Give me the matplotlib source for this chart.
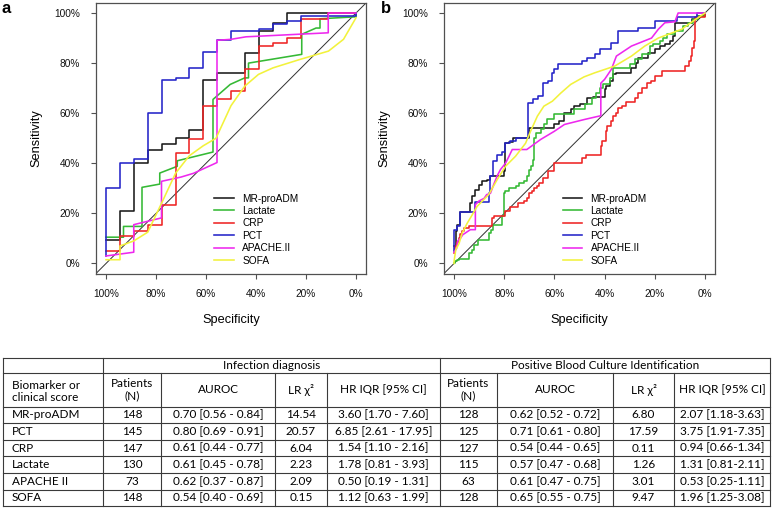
import matplotlib
matplotlib.use("Agg")
import matplotlib.pyplot as plt

plt.rcParams['font.family'] = ['Liberation Sans', 'DejaVu Sans']

# ---------------- ROC curves (specificity, sensitivity) ----------------
names = ['MR-proADM', 'Lactate', 'CRP', 'PCT', 'APACHE.II', 'SOFA']
colors = ['#1a1a1a', '#35b935', '#ee2424', '#2424c8', '#ee28ee', '#f2f23c']
tick_vals = [0.0, 0.2, 0.4, 0.6, 0.8, 1.0]
tick_labels = ['0%', '20%', '40%', '60%', '80%', '100%']

# panel a - infection diagnosis
a_mrproadm_spec = [1.0, 0.944, 0.889, 0.833, 0.778, 0.722, 0.667, 0.611, 0.556, 0.444, 0.389, 0.333, 0.278, 0.0]
a_mrproadm_sens = [0.092, 0.208, 0.40, 0.455, 0.477, 0.50, 0.532, 0.732, 0.761, 0.839, 0.93, 0.96, 1.0, 1.0]

a_lactate_spec = [1.0, 0.93, 0.93, 0.856, 0.856, 0.785, 0.785, 0.715, 0.715, 0.572, 0.572, 0.503, 0.445,
                  0.43, 0.43, 0.217, 0.217, 0.16, 0.144, 0.144, 0.0, 0.0]
a_lactate_sens = [0.105, 0.105, 0.148, 0.148, 0.304, 0.317, 0.361, 0.388, 0.41, 0.445, 0.655, 0.715, 0.741,
                  0.741, 0.80, 0.835, 0.915, 0.94, 0.94, 0.977, 0.985, 1.0]

a_crp_spec = [1.0, 0.944, 0.889, 0.833, 0.778, 0.722, 0.667, 0.611, 0.556, 0.5, 0.444, 0.389, 0.333, 0.278,
              0.222, 0.111, 0.0]
a_crp_sens = [0.048, 0.108, 0.131, 0.152, 0.232, 0.441, 0.497, 0.628, 0.655, 0.688, 0.775, 0.868, 0.879, 0.901,
              0.977, 1.0, 1.0]

a_pct_spec = [1.0, 1.0, 0.944, 0.889, 0.833, 0.778, 0.722, 0.667, 0.611, 0.556, 0.5, 0.389, 0.333, 0.278,
              0.222, 0.0]
a_pct_sens = [0.03, 0.30, 0.40, 0.417, 0.60, 0.733, 0.74, 0.78, 0.845, 0.892, 0.928, 0.938, 0.957, 0.967,
              0.99, 1.0]

a_apache_spec = [1.0, 0.889, 0.889, 0.778, 0.778, 0.70, 0.65, 0.556, 0.556, 0.5, 0.44, 0.111, 0.111, 0.0]
a_apache_sens = [0.03, 0.045, 0.155, 0.182, 0.328, 0.345, 0.36, 0.403, 0.891, 0.895, 0.905, 0.921, 1.0, 1.0]

a_sofa_spec = [1.0, 0.944, 0.944, 0.889, 0.833, 0.778, 0.722, 0.667, 0.611, 0.56, 0.5, 0.445, 0.39, 0.332,
               0.223, 0.11, 0.05, 0.0]
a_sofa_sens = [0.015, 0.015, 0.07, 0.09, 0.125, 0.24, 0.36, 0.43, 0.47, 0.50, 0.63, 0.708, 0.755, 0.781,
               0.815, 0.848, 0.895, 0.981]

# panel b - positive blood culture
b_mrproadm_spec = [1.0, 0.993, 0.988, 0.975, 0.935, 0.928, 0.915, 0.901, 0.888, 0.868, 0.855, 0.80, 0.795,
                   0.78, 0.765, 0.70, 0.60, 0.58, 0.56, 0.535, 0.52, 0.50, 0.47, 0.445, 0.40, 0.393, 0.38,
                   0.366, 0.355, 0.293, 0.273, 0.266, 0.226, 0.20, 0.18, 0.16, 0.14, 0.126, 0.12, 0.053,
                   0.03, 0.0]
b_mrproadm_sens = [0.07, 0.13, 0.155, 0.205, 0.241, 0.268, 0.295, 0.315, 0.328, 0.335, 0.35, 0.37, 0.48,
                   0.485, 0.50, 0.54, 0.555, 0.57, 0.60, 0.615, 0.63, 0.635, 0.66, 0.665, 0.695, 0.708,
                   0.728, 0.755, 0.76, 0.78, 0.80, 0.82, 0.84, 0.855, 0.868, 0.875, 0.888, 0.908, 0.96,
                   0.975, 0.988, 1.0]

b_lactate_spec = [1.0, 0.995, 0.99, 0.98, 0.94, 0.93, 0.92, 0.905, 0.86, 0.853, 0.845, 0.81, 0.80, 0.795,
                  0.78, 0.755, 0.74, 0.72, 0.71, 0.70, 0.692, 0.685, 0.682, 0.675, 0.655, 0.64, 0.628, 0.60,
                  0.52, 0.48, 0.45, 0.433, 0.42, 0.406, 0.38, 0.366, 0.30, 0.28, 0.25, 0.22, 0.206, 0.18,
                  0.166, 0.153, 0.12, 0.087, 0.066, 0.047, 0.027, 0.0]
b_lactate_sens = [0.0, 0.008, 0.013, 0.017, 0.04, 0.055, 0.075, 0.095, 0.12, 0.135, 0.155, 0.188, 0.28, 0.29,
                  0.30, 0.31, 0.32, 0.33, 0.348, 0.375, 0.39, 0.415, 0.50, 0.52, 0.535, 0.555, 0.575, 0.595,
                  0.615, 0.635, 0.66, 0.68, 0.70, 0.715, 0.74, 0.78, 0.795, 0.815, 0.835, 0.868, 0.875,
                  0.888, 0.90, 0.915, 0.928, 0.948, 0.961, 0.975, 0.988, 1.0]

b_crp_spec = [1.0, 0.995, 0.988, 0.98, 0.975, 0.968, 0.96, 0.94, 0.848, 0.84, 0.795, 0.775, 0.745, 0.72,
              0.71, 0.70, 0.69, 0.68, 0.67, 0.66, 0.645, 0.625, 0.60, 0.49, 0.475, 0.415, 0.41, 0.395, 0.39,
              0.375, 0.365, 0.355, 0.345, 0.33, 0.315, 0.28, 0.265, 0.25, 0.23, 0.215, 0.20, 0.17, 0.08,
              0.065, 0.055, 0.05, 0.045, 0.04, 0.0]
b_crp_sens = [0.04, 0.068, 0.084, 0.10, 0.117, 0.128, 0.14, 0.15, 0.18, 0.19, 0.21, 0.225, 0.24, 0.25,
              0.26, 0.28, 0.29, 0.30, 0.31, 0.32, 0.34, 0.37, 0.40, 0.42, 0.435, 0.47, 0.49, 0.53, 0.55,
              0.57, 0.59, 0.60, 0.62, 0.63, 0.645, 0.66, 0.68, 0.70, 0.72, 0.73, 0.75, 0.77, 0.79,
              0.81, 0.83, 0.86, 0.89, 0.985, 1.0]

b_pct_spec = [1.0, 1.0, 0.988, 0.975, 0.915, 0.862, 0.855, 0.845, 0.83, 0.81, 0.795, 0.775, 0.755, 0.705,
              0.705, 0.685, 0.665, 0.645, 0.625, 0.61, 0.60, 0.585, 0.49, 0.47, 0.44, 0.42, 0.373, 0.346,
              0.266, 0.20, 0.113, 0.033, 0.0]
b_pct_sens = [0.05, 0.133, 0.151, 0.205, 0.245, 0.281, 0.35, 0.41, 0.433, 0.447, 0.48, 0.49, 0.50, 0.57,
              0.64, 0.655, 0.67, 0.72, 0.73, 0.76, 0.775, 0.795, 0.808, 0.82, 0.835, 0.855, 0.88, 0.928,
              0.941, 0.968, 0.985, 1.0, 1.0]

b_apache_spec = [1.0, 0.99, 0.985, 0.975, 0.965, 0.95, 0.935, 0.915, 0.915, 0.90, 0.88, 0.87, 0.855, 0.84,
                 0.828, 0.815, 0.795, 0.78, 0.768, 0.71, 0.655, 0.60, 0.56, 0.48, 0.415, 0.415, 0.40,
                 0.373, 0.353, 0.293, 0.213, 0.186, 0.16, 0.12, 0.107, 0.0]
b_apache_sens = [0.045, 0.06, 0.09, 0.10, 0.115, 0.125, 0.135, 0.135, 0.235, 0.25, 0.26, 0.275, 0.28, 0.32,
                 0.35, 0.375, 0.40, 0.43, 0.455, 0.455, 0.495, 0.528, 0.555, 0.575, 0.59, 0.72, 0.735,
                 0.775, 0.828, 0.868, 0.90, 0.935, 0.961, 0.965, 1.0, 1.0]

b_sofa_spec = [1.0, 1.0, 0.993, 0.98, 0.968, 0.948, 0.93, 0.908, 0.862, 0.828, 0.795, 0.755, 0.715, 0.695,
               0.668, 0.642, 0.608, 0.575, 0.535, 0.482, 0.44, 0.36, 0.293, 0.24, 0.186, 0.133, 0.093,
               0.047, 0.0]
b_sofa_sens = [0.0, 0.008, 0.055, 0.08, 0.12, 0.16, 0.19, 0.228, 0.275, 0.335, 0.388, 0.428, 0.48, 0.528,
               0.588, 0.628, 0.648, 0.68, 0.715, 0.745, 0.761, 0.788, 0.828, 0.868, 0.90, 0.92, 0.935,
               0.968, 1.0]

# (spec, sens, drawn as steps?)
panel_a = [(a_mrproadm_spec, a_mrproadm_sens, True), (a_lactate_spec, a_lactate_sens, False),
           (a_crp_spec, a_crp_sens, True), (a_pct_spec, a_pct_sens, True),
           (a_apache_spec, a_apache_sens, False), (a_sofa_spec, a_sofa_sens, False)]
panel_b = [(b_mrproadm_spec, b_mrproadm_sens, True), (b_lactate_spec, b_lactate_sens, True),
           (b_crp_spec, b_crp_sens, True), (b_pct_spec, b_pct_sens, True),
           (b_apache_spec, b_apache_sens, False), (b_sofa_spec, b_sofa_sens, False)]

# ---------------- table ----------------
markers = ['MR-proADM', 'PCT', 'CRP', 'Lactate', 'APACHE II', 'SOFA']
inf_n = ['148', '145', '147', '130', '73', '148']
inf_auroc = ['0.70 [0.56 - 0.84]', '0.80 [0.69 - 0.91]', '0.61 [0.44 - 0.77]',
             '0.61 [0.45 - 0.78]', '0.62 [0.37 - 0.87]', '0.54 [0.40 - 0.69]']
inf_lr = ['14.54', '20.57', '6.04', '2.23', '2.09', '0.15']
inf_hr = ['3.60 [1.70 - 7.60]', '6.85 [2.61 - 17.95]', '1.54 [1.10 - 2.16]',
          '1.78 [0.81 - 3.93]', '0.50 [0.19 - 1.31]', '1.12 [0.63 - 1.99]']
bc_n = ['128', '125', '127', '115', '63', '128']
bc_auroc = ['0.62 [0.52 - 0.72]', '0.71 [0.61 - 0.80]', '0.54 [0.44 - 0.65]',
            '0.57 [0.47 - 0.68]', '0.61 [0.47 - 0.75]', '0.65 [0.55 - 0.75]']
bc_lr = ['6.80', '17.59', '0.11', '1.26', '3.01', '9.47']
bc_hr = ['2.07 [1.18-3.63]', '3.75 [1.91-7.35]', '0.94 [0.66-1.34]',
         '1.31 [0.81-2.11]', '0.53 [0.25-1.11]', '1.96 [1.25-3.08]']
col_headers = ['Patients\n(N)', 'AUROC', 'LR χ²', 'HR IQR [95% CI]']

W, H = 777, 508
fig = plt.figure(figsize=(W / 100, H / 100), dpi=100)


def px_axes(x0, y0, x1, y1):
    return fig.add_axes([x0 / W, 1 - y1 / H, (x1 - x0) / W, (y1 - y0) / H])


frame_col = '#505050'


def draw_panel(ax, curves):
    for (spec, sens, stepped), name, col in zip(curves, names, colors):
        if stepped:
            ax.step(spec, sens, where='post', color=col, lw=1.15, label=name)
        else:
            ax.plot(spec, sens, color=col, lw=1.15, label=name)
    ax.axline((1, 0), (0, 1), color='#303030', lw=0.7, zorder=1)
    ax.set_xlim(1.04, -0.04)
    ax.set_ylim(-0.042, 1.04)
    ax.set_xticks(tick_vals, tick_labels)
    ax.set_yticks(tick_vals, tick_labels)
    ax.tick_params(axis='both', labelsize=7.3, length=3.6, width=0.8, color=frame_col, labelcolor='#111111')
    ax.tick_params(axis='y', pad=8)
    ax.tick_params(axis='x', pad=7)
    for s in ax.spines.values():
        s.set_color(frame_col)
        s.set_linewidth(0.9)
    ax.set_xlabel('Specificity', fontsize=9.2, va='center')
    ax.set_ylabel('Sensitivity', fontsize=9.2, va='center')
    ax.xaxis.set_label_coords(0.5, -0.17)
    ax.yaxis.set_label_coords(-0.219, 0.5)
    ax.legend(loc='upper left', bbox_to_anchor=(0.438, 0.297), frameon=False, fontsize=7.3,
              handlelength=1.9, handletextpad=0.85, labelspacing=0.24, borderpad=0, borderaxespad=0)


ax_a = px_axes(96, 3, 366, 274)
draw_panel(ax_a, panel_a)
ax_b = px_axes(444, 3, 715, 274)
draw_panel(ax_b, panel_b)

fig.text(2 / W, 1 - 13 / H, 'a', fontsize=12, fontweight='bold')
fig.text(381 / W, 1 - 13 / H, 'b', fontsize=12, fontweight='bold')

# table drawn on an overlay axes in pixel units
tab = fig.add_axes([0, 0, 1, 1])
tab.set_xlim(0, W)
tab.set_ylim(H, 0)
tab.axis('off')

col_x = [3, 103, 161, 275, 327, 440, 497, 613, 674, 770]
row_y = [358.3, 373.3, 406.5, 423.1, 439.7, 456.3, 472.9, 489.5, 506]
line_kw = dict(color='#3a3a3a', lw=0.8)
tfont = dict(family=['Lato', 'DejaVu Sans'], fontsize=8.5, color='#000000', va='center')

for y in row_y:
    tab.plot([col_x[0], col_x[-1]], [y, y], **line_kw)
for i, x in enumerate(col_x):
    top = row_y[0] if i in (0, 1, 5, 9) else row_y[1]
    tab.plot([x, x], [top, row_y[-1]], **line_kw)

tab.text((col_x[1] + col_x[5]) / 2, (row_y[0] + row_y[1]) / 2, 'Infection diagnosis', ha='center', **tfont)
tab.text((col_x[5] + col_x[9]) / 2, (row_y[0] + row_y[1]) / 2, 'Positive Blood Culture Identification',
         ha='center', **tfont)
hy = (row_y[1] + row_y[2]) / 2
tab.text(col_x[0] + 8.5, hy + 1.5, 'Biomarker or\nclinical score', ha='left', linespacing=1.15, **tfont)
for k, h in enumerate(col_headers * 2):
    c = 1 + k
    tab.text((col_x[c] + col_x[c + 1]) / 2, hy, h, ha='center', linespacing=1.15, **tfont)

columns = [inf_n, inf_auroc, inf_lr, inf_hr, bc_n, bc_auroc, bc_lr, bc_hr]
for r in range(len(markers)):
    cy = (row_y[2 + r] + row_y[3 + r]) / 2
    tab.text(col_x[0] + 8.5, cy, markers[r], ha='left', **tfont)
    for c, vals in enumerate(columns):
        tab.text((col_x[c + 1] + col_x[c + 2]) / 2, cy, vals[r], ha='center', **tfont)

fig.savefig('out.png', dpi=100)
